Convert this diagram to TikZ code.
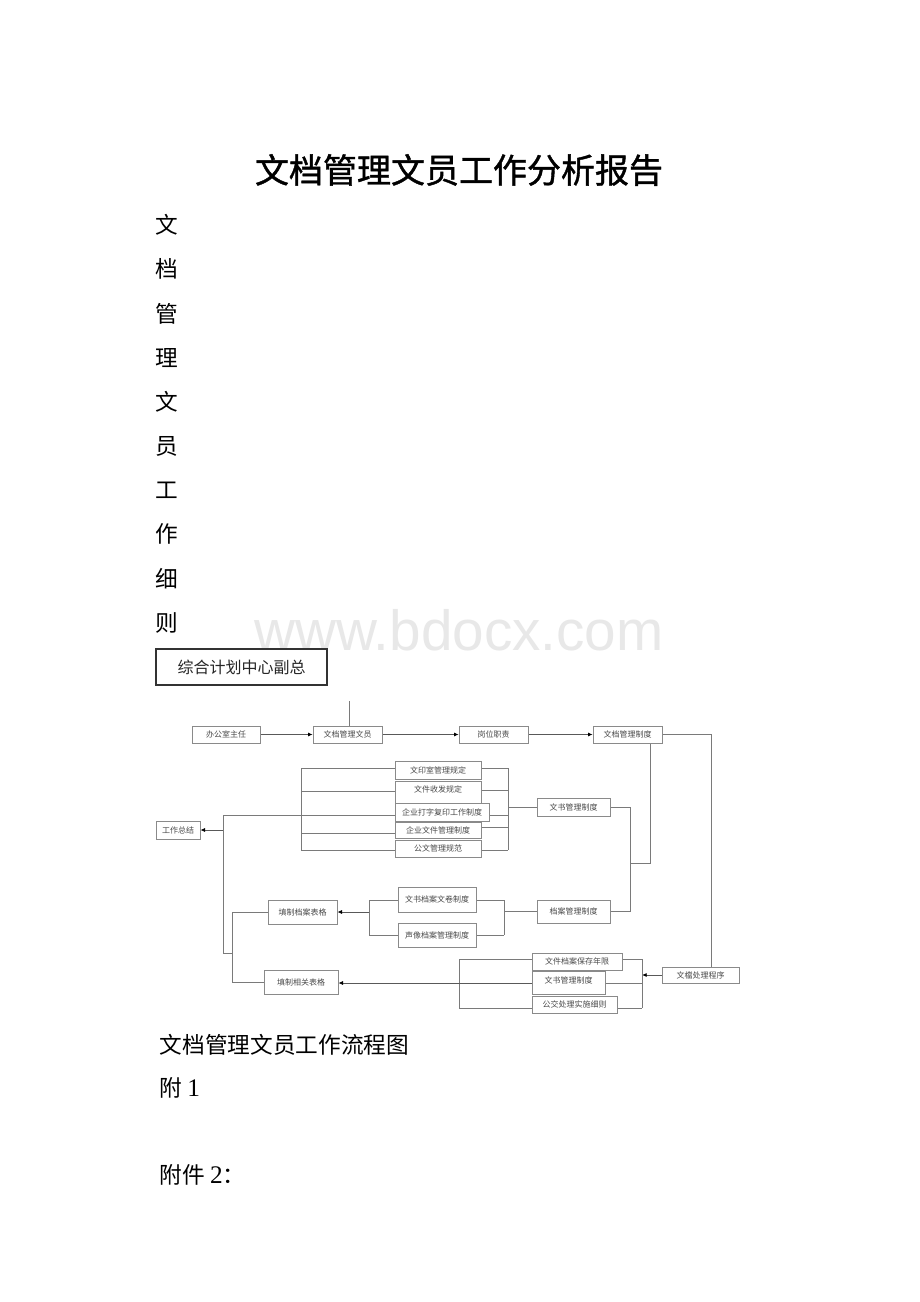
\documentclass[tikz,border=0pt]{standalone}
\usepackage{fontspec}
\setmainfont{Noto Sans CJK SC}
\newfontfamily\serifnum{Liberation Serif}
\newfontfamily\wmfont{Liberation Sans}
\newfontfamily\titlefont[FakeBold=1.2]{Noto Sans CJK SC}
\usetikzlibrary{arrows.meta}
\pgfdeclarelayer{bg}
\pgfdeclarelayer{paper}
\pgfsetlayers{paper,bg,main}
\definecolor{boxline}{HTML}{8A8A8A}
\definecolor{conline}{HTML}{7A7A7A}
\definecolor{boxtext}{HTML}{4A4A4A}
\tikzset{
  bx/.style={draw=boxline, fill=white, line width=0.5pt, inner sep=0pt, font=\fontsize{6}{7}\selectfont, text=boxtext},
  ln/.style={draw=conline, line width=0.5pt},
  arr/.style={draw=black!65, line width=0.6pt, -{Latex[length=3.5pt,width=3pt,black]}},
  big/.style={font=\fontsize{17}{18}\selectfont},
}
\newcommand\bx[6]{\node[bx,minimum width={(#4-#2)*0.75pt},minimum height={(#5-#3)*0.75pt}] (#1) at ({(#2+#4)/2},{(#3+#5)/2}) {#6};}
\begin{document}
\begin{tikzpicture}[x=0.75pt,y=-0.75pt]
\begin{pgfonlayer}{paper}
\fill[white] (0,0) rectangle (920,1302);
\end{pgfonlayer}
\useasboundingbox (0,0) rectangle (920,1302);

% watermark
\begin{pgfonlayer}{paper}
\node[font=\wmfont\fontsize{42.5}{44}\selectfont, text=black!9] (wm) at (459,630) {www.bdocx.com};
\end{pgfonlayer}

% title
\node[font=\titlefont\fontsize{25.5}{28}\selectfont] (title) at (459,170) {文档管理文员工作分析报告};

% vertical text
\foreach \c [count=\i] in {文,档,管,理,文,员,工,作,细,则}{
  \node[big] (v\i) at (167,{225+44.2*(\i-1)}) {\c};
}

% top box
\node[draw=black!80, line width=1pt, minimum width={171*0.75pt}, minimum height={36*0.75pt}, font=\fontsize{12}{14}\selectfont, text=black!85] (zh) at (241.5,667) {综合计划中心副总};

% row 1
\bx{zr}{192}{726}{260}{743}{办公室主任}
\bx{wy}{313}{726}{382}{743}{文档管理文员}
\bx{gw}{459}{726}{528}{743}{岗位职责}
\bx{zd}{593}{726}{662}{743}{文档管理制度}

% five-box stack
\bx{b1}{395}{761}{481}{779}{文印室管理规定}
\bx{b2}{395}{781}{481}{803}{\raisebox{4pt}{文件收发规定}}
\bx{b3}{395}{803}{489}{821}{企业打字复印工作制度}
\bx{b4}{395}{822}{481}{838}{企业文件管理制度}
\bx{b5}{395}{840}{481}{857}{公文管理规范}

\bx{ws}{537}{798}{610}{816}{文书管理制度}
\bx{gz}{156}{821}{200}{839}{工作总结}

% archive group
\bx{tb1}{268}{900}{337}{924}{填制档案表格}
\bx{a1}{398}{887}{476}{912}{文书档案文卷制度}
\bx{a2}{398}{923}{476}{947}{声像档案管理制度}
\bx{da}{537}{900}{610}{923}{档案管理制度}

% lower group
\bx{tb2}{264}{970}{338}{994}{填制相关表格}
\bx{c1}{532}{953}{622}{970}{文件档案保存年限}
\bx{c2}{532}{971}{605}{994}{\raisebox{4pt}{文书管理制度}}
\bx{c3}{532}{996}{617}{1013}{公交处理实施细则}
\bx{wc}{662}{967}{739}{983}{文檔处理程序}

% coordinates
\coordinate (vt) at (349,701);
\coordinate (k1) at (711,734.5);
\coordinate (k2) at (650,863);
\coordinate (k3) at (630,807);
\coordinate (k4) at (630,911.5);
\coordinate (k5) at (630,863);
\coordinate (rb) at (508,768);
\coordinate (rbb) at (508,850);
\coordinate (lb) at (301,768);
\coordinate (lbb) at (301,850);
\coordinate (m1) at (223,815);
\coordinate (m2) at (223,953);
\coordinate (m3) at (232,953);
\coordinate (m4) at (232,912);
\coordinate (m5) at (232,982);
\coordinate (ab) at (369,900);
\coordinate (abb) at (369,935);
\coordinate (ar) at (504,900);
\coordinate (arr) at (504,935);
\coordinate (cr) at (642,959);
\coordinate (crr) at (642,1008);
\coordinate (cl) at (459,959);
\coordinate (cll) at (459,1008);

\begin{pgfonlayer}{bg}
% row 1
\draw[arr] (zr.east) -- (zr.east -| wy.west);
\draw[arr] (wy.east) -- (wy.east -| gw.west);
\draw[arr] (gw.east) -- (gw.east -| zd.west);
\draw[ln] (vt) -- (vt |- wy.north);
\draw[ln] (zd.east) -- (k1) -- (k1 |- wc.north);
\draw[ln] (zd.south -| k2) -- (k2) -- (k5);
\draw[ln] (ws.east) -- (k3) -- (k4) -- (da.east);
% right bracket of stack
\draw[ln] (rb) -- (rbb);
\draw[ln] (b1.east |- rb) -- (rb);
\draw[ln] (b2.east |- 0,790) -- (508,790);
\draw[ln] (b3.east |- 0,815) -- (508,815);
\draw[ln] (b4.east |- 0,827) -- (508,827);
\draw[ln] (b5.east |- rbb) -- (rbb);
\draw[ln] (508,807) -- (ws.west);
% left bracket of stack
\draw[ln] (lb) -- (lbb);
\draw[ln] (lb) -- (b1.west |- lb);
\draw[ln] (301,791) -- (b2.west |- 0,791);
\draw[ln] (301,833) -- (b4.west |- 0,833);
\draw[ln] (lbb) -- (b5.west |- lbb);
\draw[ln] (m1) -- (b3.west |- m1);
% left trunk
\draw[ln] (m1) -- (m2) -- (m3);
\draw[arr] (m1 |- gz.east) -- (gz.east);
\draw[ln] (m4) -- (m5);
\draw[ln] (m4) -- (tb1.west |- m4);
\draw[ln] (m5) -- (tb2.west |- m5);
% archive group
\draw[arr] (369,912) -- (tb1.east);
\draw[ln] (ab) -- (abb);
\draw[ln] (ab) -- (a1.west |- ab);
\draw[ln] (abb) -- (a2.west |- abb);
\draw[ln] (ar) -- (arr);
\draw[ln] (a1.east |- ar) -- (ar);
\draw[ln] (a2.east |- arr) -- (arr);
\draw[ln] (504,911.5) -- (da.west);
% lower group
\draw[arr] (wc.west) -- (wc.west -| cr);
\draw[ln] (cr) -- (crr);
\draw[ln] (c1.east |- cr) -- (cr);
\draw[ln] (c2.east |- 0,983) -- (642,983);
\draw[ln] (c3.east |- crr) -- (crr);
\draw[ln] (cl) -- (cll);
\draw[ln] (cl) -- (c1.west |- cl);
\draw[ln] (cll) -- (c3.west |- cll);
\draw[arr] (c2.west |- 0,983) -- (tb2.east |- 0,983);
\end{pgfonlayer}

% bottom texts
\node[anchor=west, big] (cap) at (155,1045) {文档管理文员工作流程图};
\node[anchor=west, big] (f1) at (155,1088) {附 {\serifnum\fontsize{19}{20}\selectfont 1}};
\node[anchor=west, big] (f2) at (155,1175) {附件 {\serifnum\fontsize{19}{20}\selectfont 2}：};
\end{tikzpicture}
\end{document}
